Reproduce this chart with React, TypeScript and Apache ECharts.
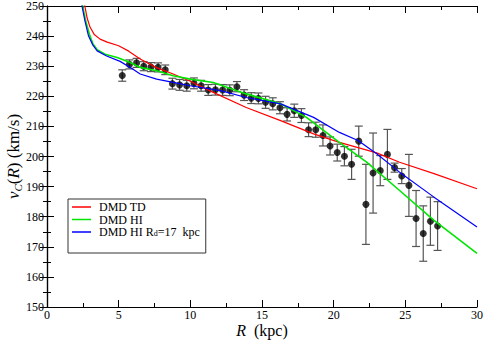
import React, { useEffect, useRef } from 'react';
import * as echarts from 'echarts';

// Observed rotation curve points
const radius = [
  5.25, 5.75, 6.25, 6.75, 7.25, 7.75, 8.25, 8.75, 9.25, 9.75,
  10.25, 10.75, 11.25, 11.75, 12.25, 12.75, 13.25, 13.75, 14.25, 14.75,
  15.25, 15.75, 16.25, 16.75, 17.25, 17.75, 18.25, 18.75, 19.25, 19.75,
  20.25, 20.75, 21.25, 21.75, 22.25, 22.75, 23.25, 23.75, 24.25, 24.75,
  25.25, 25.75, 26.25, 26.75, 27.25,
];
const velocity = [
  226.9, 230.6, 231.1, 230.0, 229.7, 229.6, 228.8, 224.2, 223.8, 223.5,
  224.3, 223.5, 222.1, 222.2, 222.1, 222.0, 223.2, 220.4, 219.4, 219.3,
  218.0, 217.5, 216.2, 214.0, 215.2, 213.6, 208.9, 208.9, 207.0, 203.5,
  201.3, 200.1, 197.4, 205.1, 184.1, 194.5, 195.3, 200.7, 196.3, 193.5,
  190.4, 179.4, 174.4, 178.5, 176.9,
];
const velocityError = [
  1.9, 1.5, 1.5, 1.5, 1.5, 1.5, 1.6, 1.8, 1.8, 1.8,
  1.8, 1.8, 1.8, 1.8, 1.8, 1.8, 1.7, 1.8, 1.8, 1.8,
  2.0, 2.0, 2.0, 2.2, 2.2, 2.3, 2.3, 2.5, 3.5, 3.0,
  2.8, 3.2, 5.0, 5.0, 13.3, 13.3, 5.0, 8.3, 1.5, 2.5,
  10.3, 9.3, 9.2, 8.0, 8.1,
];

// Model curves
const tdR = [2.6, 2.8, 3.0, 3.3, 3.7, 4.2, 5.0, 5.7, 6.5, 7.6, 8.8, 10.0, 11.6, 13.9, 16.3, 18.6, 20.4, 23.0, 24.6, 27.0, 30.0];
const tdV = [251, 246, 243, 240.5, 239, 238, 236.8, 235, 232.4, 229.6, 227.4, 225.0, 221.3, 216.3, 211.9, 207.5, 204.7, 201.2, 198.1, 194.3, 189.3];

const hiR = [2.45, 2.7, 3.0, 3.2, 3.5, 4.05, 4.9, 5.8, 6.5, 7.65, 8.8, 10.0, 11.6, 13.9, 16.3, 18.1, 20.3, 22.3, 24.6, 27.0, 30.0];
const hiV = [251, 245, 240, 237.5, 235.5, 234.0, 232.9, 231.2, 229.6, 228.5, 226.8, 225.7, 224.6, 220.8, 217.5, 213.0, 205.0, 198.1, 188.7, 178.8, 167.8];

const hiRdR = [2.4, 2.65, 2.9, 3.2, 3.5, 4.16, 5.1, 6.0, 6.5, 7.65, 8.8, 10.0, 12.1, 13.9, 16.3, 18.6, 20.4, 21.7, 23.0, 24.6, 27.0, 30.0];
const hiRdV = [251, 245, 240, 237, 235.1, 233.4, 231.6, 229.0, 227.4, 225.7, 224.6, 223.5, 221.9, 219.6, 217.5, 213.0, 208.0, 205.3, 200.9, 194.8, 186.5, 176.6];

const seriesNames = ['DMD TD', 'DMD HI', 'DMD HI Rd=17  kpc'];
const xTicks = { min: 0, max: 30, interval: 5 };
const yTicks = { min: 150, max: 250, interval: 10 };

const FONT = 'Liberation Serif, DejaVu Serif, serif';

export default function App() {
  const ref = useRef<HTMLDivElement>(null);
  useEffect(() => {
    if (!ref.current) return;
    const chart = echarts.init(ref.current, null, { renderer: 'svg' });
    const zip = (a: number[], b: number[]) => a.map((v, i) => [v, b[i]]);
    const axisCommon = {
      axisLine: { show: true, lineStyle: { color: '#000', width: 1.2 } },
      axisTick: { show: true, inside: true, length: 7, lineStyle: { color: '#000', width: 1 } },
      minorTick: { show: true, splitNumber: 2, length: 4, lineStyle: { color: '#000', width: 1 } },
      splitLine: { show: false },
    };
    const option: any = {
      animation: false,
      backgroundColor: '#fff',
      textStyle: { fontFamily: FONT },
      grid: { left: 47, top: 6, width: 430, height: 301, containLabel: false, outerBoundsMode: 'none' },
      legend: {
        orient: 'vertical',
        left: 68,
        top: 199,
        data: seriesNames,
        icon: 'rect',
        itemWidth: 19,
        itemHeight: 1.5,
        itemGap: 0.5,
        borderColor: '#333',
        borderWidth: 1,
        borderRadius: 0,
        padding: [2, 6, 15, 4],
        formatter: (name: string) =>
          name === 'DMD HI Rd=17  kpc' ? 'DMD HI R{sub|d}=17  kpc' : name,
        textStyle: {
          fontFamily: FONT,
          fontSize: 12,
          color: '#000',
          lineHeight: 12,
          padding: [0, 0, 0, 3],
          rich: {
            sub: { fontFamily: FONT, fontSize: 8, color: '#000', padding: [3, 0, 0, 0], lineHeight: 9 },
          },
        },
      },
      xAxis: [
        {
          type: 'value', position: 'bottom', ...xTicks, ...axisCommon,
          name: '{i|R}  (kpc)', nameLocation: 'middle', nameGap: 15, nameMoveOverlap: false,
          nameTextStyle: {
            fontFamily: FONT, fontSize: 16, color: '#000',
            rich: { i: { fontFamily: FONT, fontSize: 16, fontStyle: 'italic', color: '#000' } },
          },
          axisLabel: { color: '#000', fontFamily: FONT, fontSize: 12, margin: 3, lineHeight: 10 },
        },
        {
          type: 'value', position: 'top', ...xTicks, ...axisCommon,
          axisLabel: { show: false },
        },
      ],
      yAxis: [
        {
          type: 'value', position: 'left', ...yTicks, ...axisCommon,
          name: '{i|v}{sub|C}({i|R}) (km/s)', nameLocation: 'middle', nameGap: 24, nameRotate: 90, nameMoveOverlap: false,
          nameTextStyle: {
            fontFamily: FONT, fontSize: 17, color: '#000',
            rich: {
              i: { fontFamily: FONT, fontSize: 17, fontStyle: 'italic', color: '#000' },
              sub: { fontFamily: FONT, fontSize: 11, fontStyle: 'italic', color: '#000', padding: [8, 0, 0, 0] },
            },
          },
          axisLabel: { color: '#000', fontFamily: FONT, fontSize: 12, margin: 3, lineHeight: 10 },
        },
        {
          type: 'value', position: 'right', ...yTicks, ...axisCommon,
          axisLabel: { show: false },
        },
      ],
      series: [
        {
          type: 'custom',
          name: 'errors',
          xAxisIndex: 0, yAxisIndex: 0,
          data: radius.map((r, i) => [r, velocity[i], velocityError[i]]),
          encode: { x: 0, y: 1 },
          silent: true,
          z: 2,
          renderItem: (params: any, api: any) => {
            const x = api.value(0);
            const y = api.value(1);
            const e = api.value(2);
            const top = api.coord([x, y + e]);
            const bot = api.coord([x, y - e]);
            const hw = 4;
            const st = { stroke: '#555', lineWidth: 1.2 };
            return {
              type: 'group',
              children: [
                { type: 'line', shape: { x1: top[0], y1: top[1], x2: bot[0], y2: bot[1] }, style: st },
                { type: 'line', shape: { x1: top[0] - hw, y1: top[1], x2: top[0] + hw, y2: top[1] }, style: st },
                { type: 'line', shape: { x1: bot[0] - hw, y1: bot[1], x2: bot[0] + hw, y2: bot[1] }, style: st },
              ],
            };
          },
        },
        {
          type: 'scatter',
          name: 'data',
          data: zip(radius, velocity),
          symbol: 'circle',
          symbolSize: 7,
          itemStyle: { color: '#000' },
          z: 3,
        },
        {
          type: 'line', name: seriesNames[0], data: zip(tdR, tdV), showSymbol: false, symbol: 'none',
          lineStyle: { color: '#ff0000', width: 1.2 }, itemStyle: { color: '#ff0000' }, z: 4, clip: true,
        },
        {
          type: 'line', name: seriesNames[1], data: zip(hiR, hiV), showSymbol: false, symbol: 'none',
          lineStyle: { color: '#00e600', width: 1.6 }, itemStyle: { color: '#00e600' }, z: 4, clip: true,
        },
        {
          type: 'line', name: seriesNames[2], data: zip(hiRdR, hiRdV), showSymbol: false, symbol: 'none',
          lineStyle: { color: '#0000ff', width: 1.2 }, itemStyle: { color: '#0000ff' }, z: 4, clip: true,
        },
      ],
    };
    chart.setOption(option);
    return () => chart.dispose();
  }, []);
  return (
    <div
      ref={ref}
      style={{ position: 'fixed', left: 0, top: 0, width: 485, height: 341, background: '#fff' }}
    />
  );
}
